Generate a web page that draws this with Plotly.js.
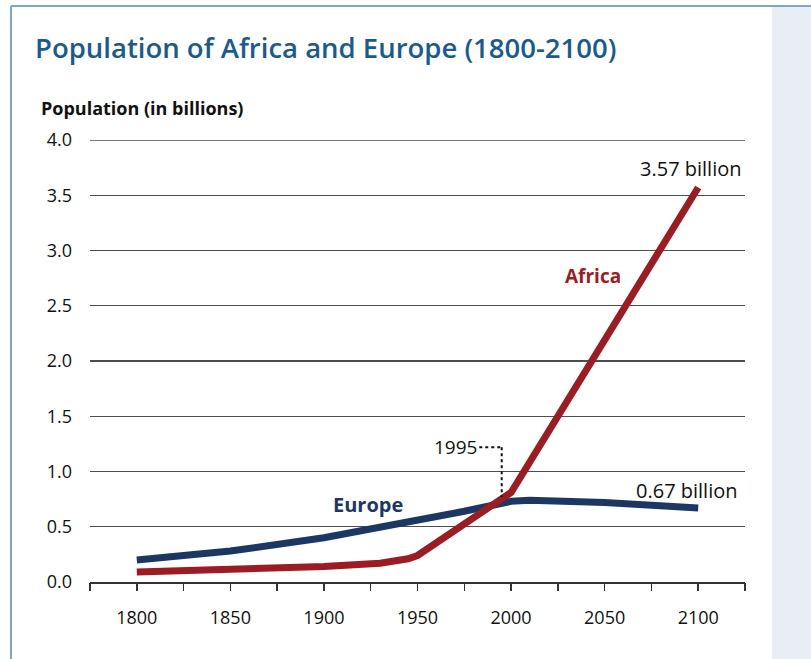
<!DOCTYPE html>
<html>
<head>
<meta charset="utf-8">
<script src="https://cdn.plot.ly/plotly-3.0.1.min.js"></script>
<style>
html,body{margin:0;padding:0;background:#fff;}
#chart{width:811px;height:659px;}
</style>
</head>
<body>
<div id="chart"></div>
<script>
// Data (population in billions)
var europeYears = [1800, 1850, 1900, 1930, 1950, 1975, 2000, 2010, 2050, 2100];
var europePop   = [0.20, 0.28, 0.40, 0.49, 0.56, 0.64, 0.73, 0.74, 0.72, 0.67];
var africaYears = [1800, 1850, 1900, 1930, 1945, 1950, 1975, 2000, 2100];
var africaPop   = [0.09, 0.11, 0.14, 0.17, 0.21, 0.24, 0.52, 0.81, 3.57];
var xTickVals = [1800, 1850, 1900, 1950, 2000, 2050, 2100];
var yTickVals = [0, 0.5, 1.0, 1.5, 2.0, 2.5, 3.0, 3.5, 4.0];

var navy = '#1d3765';
var red = '#9b1c22';
var FONT = 'Open Sans, sans-serif';

var traces = [
  {x: europeYears, y: europePop, mode: 'lines', line: {color: navy, width: 7}, hoverinfo: 'skip'},
  {x: africaYears, y: africaPop, mode: 'lines', line: {color: red, width: 7}, hoverinfo: 'skip'}
];

// paper-coordinate helpers for frame (plot area px 90..745 x, 140..582 y)
function px(p){ return (p - 90) / 655; }
function py(p){ return (582 - p) / 442; }

var layout = {
  width: 811, height: 659,
  margin: {l: 90, r: 66, t: 140, b: 77},
  paper_bgcolor: '#ffffff', plot_bgcolor: '#ffffff',
  showlegend: false,
  font: {family: FONT, color: '#111', size: 18},
  title: {
    text: 'Population of Africa and Europe (1800-2100)',
    font: {family: FONT, size: 27.5, color: '#1a5b8e', weight: 600},
    x: 35/811, xanchor: 'left', xref: 'container',
    y: 1 - 48/659, yanchor: 'middle', yref: 'container'
  },
  xaxis: {
    range: [1775, 2125],
    tickvals: xTickVals,
    showgrid: false, zeroline: false,
    showline: true, linecolor: '#333', linewidth: 1.5,
    ticks: '',
    tickfont: {family: FONT, size: 18, color: '#111'},
    ticklabelstandoff: 19,
    fixedrange: true
  },
  yaxis: {
    range: [0, 4],
    tickvals: yTickVals,
    tickformat: '.1f',
    showgrid: true, gridcolor: '#4d4d4d', gridwidth: 1.4,
    zeroline: false, showline: false, ticks: '',
    tickfont: {family: FONT, size: 18, color: '#111'},
    ticklabelstandoff: 17,
    fixedrange: true
  },
  shapes: [
    // right panel
    {type: 'rect', xref: 'paper', yref: 'paper', x0: px(772), x1: px(815), y0: py(665), y1: py(6), fillcolor: '#e9eef4', line: {width: 0}, layer: 'below'},
    // frame top and left
    {type: 'line', xref: 'paper', yref: 'paper', x0: px(11), x1: px(815), y0: py(6), y1: py(6), line: {color: '#7ba6cf', width: 2}},
    {type: 'line', xref: 'paper', yref: 'paper', x0: px(11), x1: px(11), y0: py(6), y1: py(665), line: {color: '#7ba6cf', width: 2}},
    // top gridline at 4.0
    {type: 'line', xref: 'paper', yref: 'y', x0: 0, x1: 1, y0: 4, y1: 4, line: {color: '#4d4d4d', width: 1.4}, layer: 'below'},
    // 1995 dotted callout
    {type: 'line', xref: 'x', yref: 'y', x0: 1995, x1: 1995, y0: 1.22, y1: 0.77, line: {color: '#111', width: 2, dash: 'dot'}},
    {type: 'line', xref: 'x', yref: 'y', x0: 1983, x1: 1995, y0: 1.22, y1: 1.22, line: {color: '#111', width: 2, dash: 'dot'}}
  ],
  annotations: [
    {text: '<b>Population (in billions)</b>', xref: 'paper', yref: 'paper', x: px(39), y: py(108), xanchor: 'left', yanchor: 'middle', showarrow: false, font: {family: FONT, size: 18, color: '#111'}},
    {text: '3.57 billion', x: 2096, y: 3.74, xref: 'x', yref: 'y', showarrow: false, font: {family: FONT, size: 20, color: '#111'}},
    {text: '<b>Africa</b>', x: 2044, y: 2.77, xref: 'x', yref: 'y', showarrow: false, font: {family: FONT, size: 19, color: red}},
    {text: '<b>Europe</b>', x: 1923.5, y: 0.70, xref: 'x', yref: 'y', showarrow: false, font: {family: FONT, size: 20, color: navy}},
    {text: '0.67 billion', x: 2093.5, y: 0.83, xref: 'x', yref: 'y', showarrow: false, font: {family: FONT, size: 20, color: '#111'}},
    {text: '1995', x: 1983, y: 1.22, xref: 'x', yref: 'y', xanchor: 'right', showarrow: false, font: {family: FONT, size: 19, color: '#111'}}
  ]
};

// x-axis tick marks every 25 years (drawn through a second overlaying axis)
layout.xaxis2 = {
  overlaying: 'x', range: [1775, 2125], tickmode: 'linear', tick0: 1775, dtick: 25,
  ticks: 'outside', ticklen: 8, tickwidth: 1.5, tickcolor: '#333',
  showticklabels: false, showgrid: false, zeroline: false, showline: false,
  anchor: 'y', side: 'bottom', fixedrange: true
};
traces.push({x: [1775], y: [null], xaxis: 'x2', yaxis: 'y', mode: 'lines', hoverinfo: 'skip', showlegend: false});

Plotly.newPlot('chart', traces, layout, {displayModeBar: false, staticPlot: true});
</script>
</body>
</html>
